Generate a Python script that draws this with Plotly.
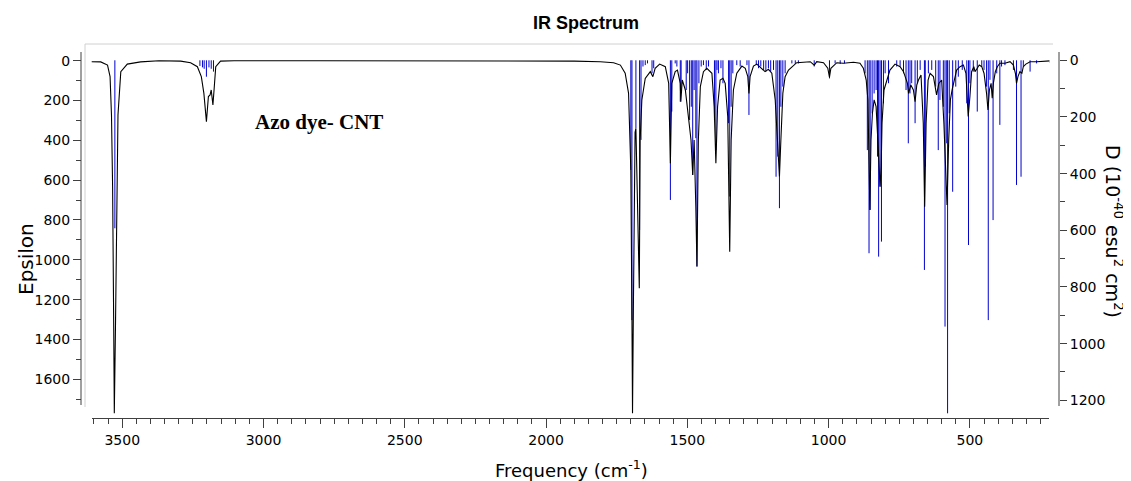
import plotly.graph_objects as go

# ---------------- data ----------------
stick_freq = [3526, 3225, 3216, 3210, 3202, 3193, 3185, 3177,
              1700, 1696, 1682, 1669, 1664, 1657, 1649, 1641, 1625, 1619, 1560, 1555,
              1543, 1537, 1525, 1522, 1504, 1499, 1492, 1486, 1481, 1476, 1470, 1466,
              1459, 1451, 1443, 1433, 1425, 1404, 1399, 1395, 1390, 1381, 1374, 1354,
              1350, 1345, 1339, 1325, 1313, 1289, 1282, 1256, 1248, 1240, 1230, 1222,
              1213, 1205, 1195, 1186, 1180, 1174, 1169, 1162, 1154,
              1130, 1118, 1107, 1051, 997, 977, 959, 944, 871, 863, 857, 853, 846, 839,
              832, 827, 823, 818, 813, 806, 800, 788, 759, 747, 735, 726, 718, 712, 706,
              694, 686, 676, 661, 658, 647, 635, 621, 612, 606, 594, 588, 582, 579, 573,
              561, 550, 541, 527, 511, 505, 500, 488,
              474, 458, 450, 441, 435, 429, 418, 405, 394, 388, 376, 346, 335, 319, 311,
              287, 264, 217]
stick_D = [593, 20, 25, 30, 58, 25, 30, 40,
           387, 917, 240, 599, 281, 22, 17, 11, 46, 28, 493, 181,
           11, 22, 146, 105, 105, 46, 211, 164, 405, 105, 275, 728,
           81, 22, 17, 34, 22, 211, 317, 34, 46, 28, 81, 222,
           481, 164, 46, 17, 22, 17, 193, 17, 28, 22, 34, 40,
           28, 40, 34, 411, 340, 522, 164, 93, 46,
           11, 13, 11, 22, 64, 11, 13, 11, 46, 317, 681, 528, 187, 117,
           105, 340, 693, 446, 640, 152, 46, 81, 22, 22, 46, 105, 293, 117, 81,
           222, 81, 34, 740, 375, 46, 34, 93, 317, 140, 164, 940, 293, 1246, 187,
           464, 93, 58, 34, 152, 652, 81, 40,
           181, 22, 34, 93, 917, 69, 564, 46, 228, 22, 17, 34, 440, 411, 22,
           40, 11, 9]

curve_freq = [3611, 3576, 3552, 3543, 3538, 3534, 3530, 3528, 3524, 3519, 3515, 3505, 3482, 3435,
              3370, 3293, 3258, 3234, 3220, 3211, 3202, 3195, 3189, 3185, 3179, 3175, 3169, 3152,
              3104, 2800, 2500, 2200, 1900, 1808, 1761, 1737, 1720, 1708, 1700, 1696, 1694, 1691,
              1688, 1685, 1682, 1676, 1670, 1667, 1661, 1649, 1631, 1622, 1614, 1598, 1578, 1566,
              1560, 1555, 1543, 1535, 1525, 1523, 1518, 1507, 1496, 1487, 1481, 1476, 1470, 1466,
              1461, 1454, 1443, 1431, 1413, 1405, 1399, 1393, 1384, 1374, 1366, 1357, 1350, 1345,
              1337, 1325, 1307, 1295, 1286, 1282, 1278, 1266, 1254, 1236, 1225, 1213, 1201, 1189,
              1183, 1177, 1174, 1169, 1162, 1154, 1142, 1113, 1083, 1065, 1051, 1042, 1018, 1003,
              997, 992, 971, 948, 912, 889, 877, 867, 861, 857, 854, 850, 845, 839, 832, 824, 818,
              814, 811, 804, 794, 783, 765, 747, 735, 721, 717, 709, 700, 694, 688, 682, 673, 665,
              660, 655, 648, 641, 629, 618, 610, 600, 592, 585, 581, 575, 569, 563, 556, 547, 535,
              523, 514, 509, 506, 500, 494, 486, 482, 474, 467, 458, 450, 441, 436, 431, 425, 421,
              417, 410, 403, 394, 376, 358, 346, 339, 335, 330, 323, 316, 311, 302, 287, 264, 240,
              207]
curve_eps = [5, 6, 22, 80, 273, 633, 1352, 1771, 1352, 624, 273, 55, 17, 6,
             0, 2, 10, 30, 80, 164, 306, 180, 172, 147, 222, 147, 30, 2,
             0, 0, 0, 0, 2, 5, 10, 22, 63, 164, 549, 1302, 1771, 1250,
             500, 360, 340, 833, 1143, 398, 197, 89, 55, 80, 38, 17, 30, 114,
             515, 114, 55, 47, 114, 206, 97, 147, 281, 398, 574, 398, 733, 1034,
             398, 130, 55, 38, 63, 231, 515, 231, 97, 88, 114, 281, 959, 398,
             147, 63, 27, 38, 80, 164, 80, 27, 17, 38, 55, 43, 63, 197,
             365, 473, 582, 398, 164, 80, 47, 10, 5, 5, 22, 5, 10, 38,
             83, 38, 10, 13, 8, 13, 38, 97, 197, 448, 750, 398, 264, 197, 231, 448, 633,
             532, 314, 147, 97, 47, 17, 30, 55, 114, 164, 122, 147, 206, 122, 97, 72, 314,
             733, 314, 97, 63, 80, 172, 114, 97, 314, 566, 725, 398, 197, 147, 97, 47, 30,
             22, 63, 197, 280, 181, 55, 30, 55, 38, 22, 30, 63, 164, 247, 147, 114, 189,
             114, 55, 30, 13, 13, 5, 22, 63, 114, 80, 55, 63, 30, 17, 5, 5, 2,
             0]

x_range = [3608, 219]
eps_range = [1794.6, -83.9]
d_range = [1262.6, -57.5]

# ---------------- geometry (window pixels; page body has an 8px margin) ----------------
WIN_W, WIN_H, OFF = 1131, 481, 8
L, R, T, B = 81, 1059, 44, 418
def px_x(p):
    return (p - L) / (R - L)
def px_y(p):
    return (B - p) / (B - T)

AX = "#404040"
TICKFONT = dict(family="DejaVu Sans, sans-serif", size=14, color="black")

sx, sy = [], []
for f, d in zip(stick_freq, stick_D):
    sx += [f, f, None]
    sy += [0, d, None]

fig = go.Figure()
fig.add_trace(go.Scatter(x=sx, y=sy, yaxis="y", mode="lines",
                         line=dict(color="#0000CC", width=1),
                         hoverinfo="skip", showlegend=False))
fig.add_trace(go.Scatter(x=curve_freq, y=curve_eps, yaxis="y2", mode="lines",
                         line=dict(color="black", width=1.1), showlegend=False))

fig.update_layout(
    width=WIN_W - OFF, height=WIN_H - OFF,
    margin=dict(l=L - OFF, r=WIN_W - R, t=T - OFF, b=WIN_H - B, pad=0),
    paper_bgcolor="white", plot_bgcolor="white",
    showlegend=False,
    xaxis=dict(domain=[px_x(91.7), px_x(1049.3)], range=x_range,
               showline=True, linecolor=AX, linewidth=1,
               ticks="outside", ticklen=9, tickcolor=AX, tickwidth=1,
               tick0=0, dtick=500, tickfont=TICKFONT,
               minor=dict(ticks="outside", ticklen=5, tickcolor=AX, tick0=0, dtick=50),
               showgrid=False, zeroline=False),
    # D axis (sticks) on the right
    yaxis=dict(domain=[0, 1], range=d_range, side="right", anchor="free", position=1,
               showline=False, ticks="outside", ticklen=7, tickcolor=AX,
               tick0=0, dtick=200, tickfont=TICKFONT,
               minor=dict(ticks="outside", ticklen=5, tickcolor=AX, tick0=0, dtick=100),
               showgrid=False, zeroline=False),
    # Epsilon axis (curve) on the left
    yaxis2=dict(range=eps_range, overlaying="y", side="left", anchor="free", position=0,
                showline=False, ticks="outside", ticklen=8, tickcolor=AX,
                tick0=0, dtick=200, tickfont=TICKFONT,
                minor=dict(ticks="outside", ticklen=5, tickcolor=AX, tick0=0, dtick=100),
                showgrid=False, zeroline=False),
    shapes=[
        dict(type="line", xref="paper", yref="paper", x0=0, x1=0,
             y0=px_y(405), y1=px_y(52), line=dict(color=AX, width=1)),
        dict(type="line", xref="paper", yref="paper", x0=1, x1=1,
             y0=px_y(406), y1=px_y(52), line=dict(color=AX, width=1)),
        dict(type="line", xref="paper", yref="paper", x0=px_x(85), x1=px_x(1053),
             y0=px_y(44), y1=px_y(44), line=dict(color="#d0d0d0", width=1)),
        dict(type="line", xref="paper", yref="paper", x0=px_x(85), x1=px_x(85),
             y0=px_y(44), y1=px_y(407), line=dict(color="#d0d0d0", width=1)),
    ],
    annotations=[
        dict(text="<b>IR Spectrum</b>", xref="paper", yref="paper",
             x=px_x(586), y=px_y(23), xanchor="center", yanchor="middle", showarrow=False,
             font=dict(family="Liberation Sans, Arial, sans-serif", size=18, color="black")),
        dict(text="Frequency (cm<sup>-1</sup>)", xref="paper", yref="paper",
             x=px_x(571), y=px_y(469), xanchor="center", yanchor="middle", showarrow=False,
             font=dict(family="DejaVu Sans, sans-serif", size=18, color="black")),
        dict(text="Epsilon", xref="paper", yref="paper", textangle=-90,
             x=px_x(26), y=px_y(259), xanchor="center", yanchor="middle", showarrow=False,
             font=dict(family="DejaVu Sans, sans-serif", size=20, color="black")),
        dict(text="D (10<sup>-40</sup> esu<sup>2</sup> cm<sup>2</sup>)", xref="paper", yref="paper",
             textangle=90, x=px_x(1114), y=px_y(231), xanchor="center", yanchor="middle",
             showarrow=False,
             font=dict(family="DejaVu Sans, sans-serif", size=19, color="black")),
        dict(text="<b>Azo dye- CNT</b>", xref="paper", yref="paper",
             x=px_x(253), y=px_y(122), xanchor="left", yanchor="middle", showarrow=False,
             font=dict(family="Liberation Serif, Times New Roman, serif", size=21, color="black")),
    ],
)

fig.write_html("out.html")
